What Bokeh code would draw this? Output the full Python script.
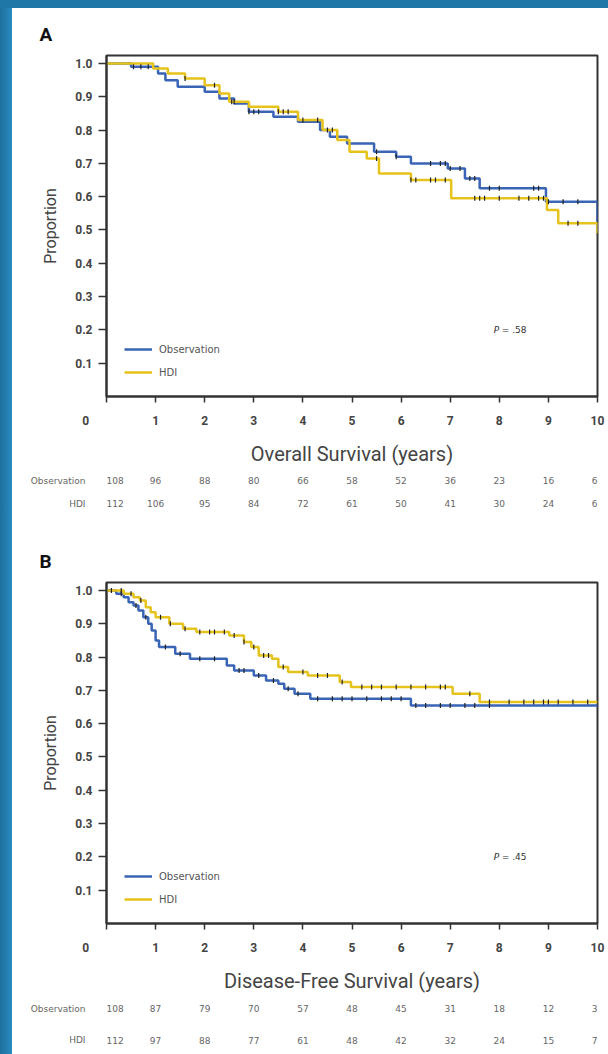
import numpy as np
from bokeh.plotting import figure
from bokeh.layouts import column
from bokeh.models import (Legend, LegendItem, Range1d, FixedTicker, Label,
                          PrintfTickFormatter, Title, ColumnDataSource)
from bokeh.core.properties import value
from bokeh.embed import file_html
from bokeh.resources import INLINE

# ---------------- data ----------------
years = [0, 1, 2, 3, 4, 5, 6, 7, 8, 9, 10]
yticks = [0.1, 0.2, 0.3, 0.4, 0.5, 0.6, 0.7, 0.8, 0.9, 1.0]
risk_years = [0, 1, 2, 3, 4, 5, 6, 7, 8, 9, 10]
groups = ["Observation", "HDI"]

# Panel A: overall survival
os_obs_t = [0, 0.5, 1.05, 1.2, 1.45, 2.0, 2.3, 2.6, 2.9, 3.4, 3.9, 4.35, 4.55, 4.9, 5.45, 5.9, 6.2, 6.95, 7.3, 7.6, 8.95, 10.0]
os_obs_s = [1.0, 0.99, 0.97, 0.95, 0.93, 0.915, 0.895, 0.88, 0.855, 0.84, 0.825, 0.80, 0.78, 0.76, 0.735, 0.72, 0.70, 0.685, 0.655, 0.625, 0.585, 0.50]
os_hdi_t = [0, 0.95, 1.25, 1.6, 2.0, 2.3, 2.5, 2.9, 3.5, 3.9, 4.4, 4.7, 4.95, 5.3, 5.55, 6.2, 7.02, 8.97, 9.2, 10.0]
os_hdi_s = [1.0, 0.985, 0.97, 0.955, 0.935, 0.91, 0.885, 0.87, 0.855, 0.83, 0.80, 0.77, 0.735, 0.715, 0.67, 0.65, 0.595, 0.56, 0.52, 0.49]
os_obs_cens = [0.55, 0.7, 0.85, 2.9, 3.0, 3.1, 4.5, 5.5, 5.9, 6.6, 6.8, 6.9, 7.0, 7.2, 7.4, 7.5, 7.8, 8.0, 8.7, 8.8, 9.0, 9.3, 9.6]
os_hdi_cens = [1.6, 2.2, 2.55, 2.6, 3.5, 3.6, 3.7, 4.0, 4.3, 4.6, 5.5, 6.2, 6.3, 6.6, 6.7, 6.9, 7.5, 7.6, 7.7, 8.0, 8.4, 8.6, 8.8, 8.9, 9.4, 9.6]
os_risk_obs = ["108", "96", "88", "80", "66", "58", "52", "36", "23", "16", "6"]
os_risk_hdi = ["112", "106", "95", "84", "72", "61", "50", "41", "30", "24", "6"]

# Panel B: disease-free survival
dfs_obs_t = [0, 0.2, 0.35, 0.45, 0.55, 0.65, 0.75, 0.85, 0.92, 1.0, 1.07, 1.4, 1.7, 2.45, 2.6, 3.0, 3.25, 3.5, 3.62, 3.83, 4.15, 6.2, 10.0]
dfs_obs_s = [1.0, 0.99, 0.98, 0.965, 0.955, 0.94, 0.92, 0.90, 0.88, 0.85, 0.83, 0.81, 0.795, 0.775, 0.76, 0.745, 0.73, 0.72, 0.705, 0.69, 0.675, 0.655, 0.655]
dfs_hdi_t = [0, 0.35, 0.55, 0.68, 0.8, 0.9, 1.0, 1.28, 1.56, 1.83, 2.5, 2.8, 2.95, 3.1, 3.37, 3.5, 3.7, 4.1, 4.75, 4.98, 7.05, 7.6, 10.0]
dfs_hdi_s = [1.0, 0.99, 0.98, 0.97, 0.95, 0.935, 0.92, 0.90, 0.885, 0.875, 0.865, 0.845, 0.83, 0.805, 0.795, 0.77, 0.755, 0.745, 0.725, 0.71, 0.69, 0.665, 0.665]
dfs_obs_cens = [0.1, 0.3, 0.6, 0.8, 1.2, 1.5, 1.9, 2.2, 2.7, 2.8, 3.1, 3.4, 3.7, 3.9, 4.3, 4.6, 4.8, 5.0, 5.3, 5.6, 5.8, 6.0, 6.3, 6.5, 6.8, 7.0, 7.3, 7.5, 7.8]
dfs_hdi_cens = [0.3, 0.5, 0.7, 1.1, 1.3, 1.6, 1.9, 2.1, 2.2, 2.4, 2.6, 2.8, 3.0, 3.2, 3.3, 3.6, 4.0, 4.3, 4.5, 4.8, 5.2, 5.4, 5.6, 5.9, 6.2, 6.5, 6.8, 6.9, 7.4, 7.8, 8.2, 8.5, 8.7, 8.9, 9.0, 9.2, 9.5, 9.8]
dfs_risk_obs = ["108", "87", "79", "70", "57", "48", "45", "31", "18", "12", "3"]
dfs_risk_hdi = ["112", "97", "88", "77", "61", "48", "42", "32", "24", "15", "7"]

BLUE = "#3a64b5"
YELLOW = "#e5c31c"
FRAME = "#333333"
TXT = "#444444"
FONT = "Roboto"
SMALL = "DejaVu Sans"

W = 596          # figure width (page minus 12 px left strip)
BL, BR = 94, 11  # left / right borders -> frame from 106 to 597 on the page


def step_at(t, s, x):
    t = np.asarray(t)
    s = np.asarray(s)
    idx = np.searchsorted(t, np.asarray(x), side="right") - 1
    return s[np.clip(idx, 0, len(s) - 1)]


def panel(h, top, bottom, letter, xtitle, pval, obs, hdi):
    (ot, os_, oc), (ht, hs, hc) = obs, hdi
    p = figure(width=W, height=h, x_range=Range1d(0, 10), y_range=Range1d(0, 1.024),
               output_backend="svg", toolbar_location=None,
               min_border_left=BL, min_border_right=BR,
               min_border_top=top, min_border_bottom=bottom)
    p.xgrid.visible = False
    p.ygrid.visible = False
    p.outline_line_color = FRAME
    p.outline_line_width = 2
    p.background_fill_color = "white"
    p.border_fill_color = "white"
    for ax in (p.xaxis, p.yaxis):
        ax.axis_line_color = FRAME
        ax.axis_line_width = 2
        ax.major_tick_line_color = FRAME
        ax.major_tick_line_width = 1.5
        ax.major_tick_out = 6
        ax.major_tick_in = 0
        ax.minor_tick_line_color = None
        ax.major_label_text_color = TXT
        ax.major_label_text_font = FONT
        ax.major_label_text_font_style = "bold"
        ax.axis_label_text_font = FONT
        ax.axis_label_text_font_style = "normal"
        ax.axis_label_text_color = TXT
    p.xaxis.ticker = FixedTicker(ticks=years)
    # the "0" sits left of the corner in the original: pad it with no-break spaces
    p.xaxis.major_label_overrides = {0: "0" + "\u00a0" * 14}
    p.yaxis.ticker = FixedTicker(ticks=yticks)
    p.yaxis.formatter = PrintfTickFormatter(format="%.1f")
    p.yaxis.major_tick_out = 8
    p.xaxis.major_label_text_font_size = "12px"
    p.yaxis.major_label_text_font_size = "12px"
    p.xaxis.major_label_standoff = 11
    p.yaxis.major_label_standoff = 6
    p.xaxis.axis_label = xtitle
    p.xaxis.axis_label_text_font_size = "20px"
    p.xaxis.axis_label_standoff = 11
    p.yaxis.axis_label = "Proportion"
    p.yaxis.axis_label_text_font_size = "16px"
    p.yaxis.axis_label_standoff = 12

    r_o = p.step(ot, os_, mode="after", line_color=BLUE, line_width=2.5)
    r_h = p.step(ht, hs, mode="after", line_color=YELLOW, line_width=2.5)
    p.scatter(oc, step_at(ot, os_, oc), marker="dash", angle=np.pi / 2, size=5,
              line_color="#222222", line_width=1.2)
    p.scatter(hc, step_at(ht, hs, hc), marker="dash", angle=np.pi / 2, size=5,
              line_color="#222222", line_width=1.2)

    leg = Legend(items=[LegendItem(label=groups[0], renderers=[r_o]),
                        LegendItem(label=groups[1], renderers=[r_h])],
                 location=(18, 17), glyph_width=28, glyph_height=14, label_height=14,
                 spacing=9, padding=0, margin=0, label_standoff=7,
                 label_text_font_size="10px", label_text_font=SMALL, label_text_color="#555555",
                 border_line_alpha=0, background_fill_alpha=0)
    p.add_layout(leg)

    p.add_layout(Title(text=letter, align="left", offset=-67, text_font=FONT,
                       text_font_size="19px", text_font_style="bold", text_color="#111111",
                       standoff=20), "above")

    p.add_layout(Label(x=8.0, y=0.2, text="P", text_align="right", text_baseline="middle",
                       text_font=SMALL, text_font_size="9px", text_font_style="italic",
                       text_color="#333333"))
    p.add_layout(Label(x=8.05, y=0.2, text="= " + pval, text_align="left", text_baseline="middle",
                       text_font=SMALL, text_font_size="9px", text_color="#333333"))
    return p


def risk_table(h, y_range, risk_obs, risk_hdi):
    t = figure(width=W, height=h, output_backend="svg", toolbar_location=None,
               x_range=Range1d(0, 10), y_range=Range1d(*y_range),
               x_axis_location=None, y_axis_location="left",
               min_border_left=BL, min_border_right=BR, min_border_top=0, min_border_bottom=0)
    t.xgrid.visible = False
    t.ygrid.visible = False
    t.outline_line_color = None
    t.background_fill_color = "white"
    t.border_fill_color = "white"
    # row names as the tick labels of the left axis
    t.yaxis.ticker = FixedTicker(ticks=[0, 1])
    t.yaxis.major_label_overrides = {0: groups[0], 1: groups[1]}
    t.yaxis.axis_line_color = None
    t.yaxis.major_tick_line_color = None
    t.yaxis.minor_tick_line_color = None
    t.yaxis.major_label_standoff = 15
    t.yaxis.major_label_text_font = SMALL
    t.yaxis.major_label_text_font_size = "9px"
    t.yaxis.major_label_text_color = "#666666"
    n = len(risk_years)
    align = ["left"] + ["center"] * (n - 2) + ["right"]
    src = ColumnDataSource(dict(x=risk_years * 2, y=[0] * n + [1] * n,
                                text=list(risk_obs) + list(risk_hdi), align=align * 2))
    t.text("x", "y", text="text", source=src, text_align="align", text_baseline="middle",
           text_font=value(SMALL), text_font_size=value("9px"), text_color="#666666")
    return t


p1 = panel(462, 47, 74, "A", "Overall Survival (years)", ".58",
           (os_obs_t, os_obs_s, os_obs_cens), (os_hdi_t, os_hdi_s, os_hdi_cens))
t1 = risk_table(60, (2.17, -0.435), os_risk_obs, os_risk_hdi)
p2 = panel(465, 52, 70, "B", "Disease-Free Survival (years)", ".45",
           (dfs_obs_t, dfs_obs_s, dfs_obs_cens), (dfs_hdi_t, dfs_hdi_s, dfs_hdi_cens))
t2 = risk_table(59, (1.44, -0.41), dfs_risk_obs, dfs_risk_hdi)

p1.margin = (8, 0, 0, 12)
for f in (t1, p2, t2):
    f.margin = (0, 0, 0, 12)

bg = ("linear-gradient(to bottom, #1e77a6 8px, rgba(0,0,0,0) 8px), "
      "linear-gradient(to right, #1c6f9c 0px, #2a8cc0 12px, #ffffff 12px)")
layout = column(p1, t1, p2, t2, spacing=0, styles={"background": bg})

open("out.html", "w").write(file_html(layout, INLINE))
